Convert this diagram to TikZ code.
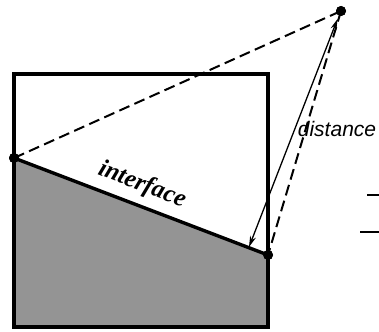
\documentclass[tikz,border=0pt]{standalone}
\usepackage{fontspec}
\setmainfont{Liberation Serif}
\setsansfont{Liberation Sans}
\usetikzlibrary{arrows.meta}
\begin{document}
\begin{tikzpicture}[x=1pt,y=-1pt,
  thick line/.style={line width=3.4pt},
  dashline/.style={line width=2pt, dash pattern=on 11pt off 5.5pt},
  dot/.style={circle, fill=black, inner sep=0pt, minimum size=10pt},
  arr/.style={line width=1.3pt, {Stealth[length=11pt,width=6pt]}-{Stealth[length=11pt,width=6pt]}}]
\useasboundingbox (0,0) rectangle (379,331);
\coordinate (BL) at (14,327);
\coordinate (BR) at (268,327);
\coordinate (TL) at (14,74);
\coordinate (TR) at (268,74);
\node[dot] (L) at (14,158) {};
\node[dot] (R) at (268,255) {};
\node[dot] (P) at (341,11) {};
\coordinate (A1) at (337.5,19);
\coordinate (A2) at (249,247);
\fill[black!42] (L.center) -- (R.center) -- (BR) -- (BL) -- cycle;
\draw[thick line] (TL) -- (TR) -- (BR) -- (BL) -- cycle;
\draw[thick line] (L.center) -- (R.center);
\draw[dashline] (L.center) -- (P.center);
\draw[dashline] (P.center) -- (R.center);
\draw[arr] (A1) -- (A2);
\node[dot] at (L) {};
\node[dot] at (R) {};
\node[dot] at (P) {};
\node[font=\sffamily\itshape\fontsize{21}{21}\selectfont, inner sep=0pt] (dist) at (337,129) {distance};
\node[font=\bfseries\itshape\fontsize{25}{25}\selectfont, inner sep=0pt, rotate=-20.9] (intf) at (142,185) {interface};
\coordinate (S1a) at (367,195);
\coordinate (S1b) at (379,195);
\coordinate (S2a) at (360,232);
\coordinate (S2b) at (379,232);
\draw[line width=2.8pt] (S1a) -- (S1b);
\draw[line width=2.8pt] (S2a) -- (S2b);
\end{tikzpicture}
\end{document}
